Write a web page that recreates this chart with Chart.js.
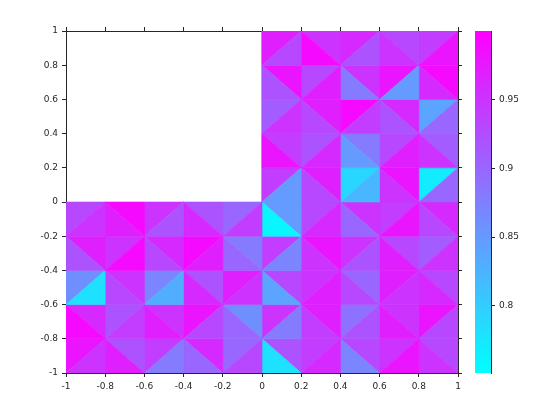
<!DOCTYPE html><html><head><meta charset="utf-8">
<script src="https://cdn.jsdelivr.net/npm/chart.js@4"></script>
<style>body{margin:0;background:#fff}#a{position:absolute;left:0;top:0;width:560px;height:420px}#b{position:absolute;left:470px;top:0;width:90px;height:420px}</style>
</head><body><div id="a"><canvas id="c1"></canvas></div><div id="b"><canvas id="c2"></canvas></div>
<script>
const xTicks=[-1,-0.8,-0.6,-0.4,-0.2,0,0.2,0.4,0.6,0.8,1];
const yTicks=[-1,-0.8,-0.6,-0.4,-0.2,0,0.2,0.4,0.6,0.8,1];
const cbTicks=[0.8,0.85,0.9,0.95];
const cMin=0.751, cMax=1.0;
// upper square rows (x 0..1), top to bottom, two triangle values per cell
const upperRows=[
[.93,.97,.99,.95,.92,.96,.95,.93,.98,.94],
[.92,.98,.97,.93,.88,.95,.85,.98,.96,.99],
[.95,.91,.93,.97,.94,.99,.92,.96,.9,.84],
[.98,.94,.96,.92,.85,.88,.97,.93,.95,.91],
[.85,.94,.93,.97,.82,.79,.95,.98,.9,.77]];
// lower band rows (x -1..1), top to bottom
const lowerRows=[
[.95,.93,.97,.99,.92,.95,.96,.92,.94,.9,.76,.85,.96,.93,.9,.95,.98,.94,.93,.96],
[.92,.97,.99,.95,.93,.96,.97,.99,.9,.88,.87,.94,.95,.98,.92,.95,.97,.93,.95,.91],
[.78,.86,.93,.95,.83,.87,.96,.92,.95,.97,.84,.93,.97,.95,.93,.9,.95,.97,.96,.93],
[.99,.96,.94,.92,.97,.95,.93,.98,.9,.86,.88,.95,.94,.97,.92,.89,.97,.95,.93,.98],
[.95,.98,.97,.92,.88,.94,.9,.96,.93,.9,.78,.92,.96,.94,.87,.93,.98,.95,.95,.93]];
const h=0.2;
function col(v){const t=Math.max(0,Math.min(1,(v-cMin)/(cMax-cMin)));return `rgb(${Math.round(255*t)},${Math.round(255*(1-t))},255)`;}
const datasets=[];
function addRows(rows,x0,yTop){rows.forEach((r,i)=>{const y1=yTop-i*h,y0=y1-h;for(let j=0;j<r.length/2;j++){const xa=x0+j*h,xb=xa+h;const flip=(i+j)%2;
const tris=flip?[[[xa,y0],[xb,y0],[xa,y1]],[[xb,y0],[xb,y1],[xa,y1]]]:[[[xa,y0],[xb,y0],[xb,y1]],[[xa,y0],[xb,y1],[xa,y1]]];
tris.forEach((tr,k)=>{const c=col(r[2*j+k]);datasets.push({data:[...tr,tr[0]].map(p=>({x:p[0],y:p[1]})),showLine:true,fill:'shape',backgroundColor:c,borderColor:c,borderWidth:0.6,pointRadius:0});});}});}
addRows(upperRows,0,1);addRows(lowerRows,-1,0);
const F={family:'DejaVu Sans',size:9};
Chart.defaults.color='#262626';Chart.defaults.animation=false;
const ax=(pos,show,vals)=>({type:'linear',position:pos,min:-1,max:1,afterBuildTicks:s=>{s.ticks=vals.map(v=>({value:v}))},
ticks:{display:show,font:F,padding:4,callback:v=>String(Math.round(v*10)/10)},grid:{drawOnChartArea:false,tickLength:4,color:'#262626'},border:{color:'#262626'}});
new Chart(document.getElementById('c1'),{type:'scatter',data:{datasets},options:{responsive:true,maintainAspectRatio:false,
layout:{padding:{left:20,right:102,top:31,bottom:20}},plugins:{legend:{display:false},tooltip:{enabled:false}},
scales:{x:{...ax('bottom',true,xTicks),afterFit:s=>{s.height=27}},y:{...ax('left',true,yTicks),afterFit:s=>{s.width=46}},
x2:{...ax('top',false,xTicks),afterFit:s=>{s.height=0}},y2:{...ax('right',false,yTicks),afterFit:s=>{s.width=0}}}}});
new Chart(document.getElementById('c2'),{type:'bar',data:{labels:['c'],datasets:[{data:[[cMin,cMax]],barPercentage:1,categoryPercentage:1,
backgroundColor:ctx=>{const a=ctx.chart.chartArea;if(!a)return '#f0f';const g=ctx.chart.ctx.createLinearGradient(0,a.bottom,0,a.top);g.addColorStop(0,'rgb(0,255,255)');g.addColorStop(1,'rgb(255,0,255)');return g;}}]},
options:{responsive:true,maintainAspectRatio:false,layout:{padding:{left:5,top:31,bottom:47,right:0}},plugins:{legend:{display:false},tooltip:{enabled:false}},
scales:{x:{display:false},y:{position:'right',min:cMin,max:cMax,afterBuildTicks:s=>{s.ticks=cbTicks.map(v=>({value:v}))},afterFit:s=>{s.width=69},
ticks:{font:F,padding:4,callback:v=>String(Math.round(v*100)/100)},grid:{drawOnChartArea:false,tickLength:4,color:'#262626'},border:{color:'#262626'}}}}});
</script></body></html>
